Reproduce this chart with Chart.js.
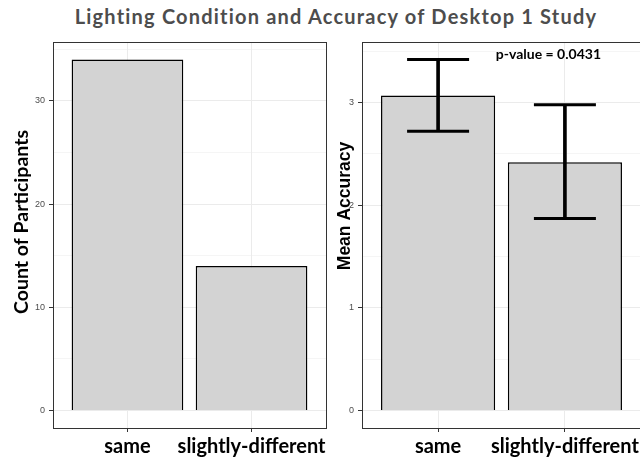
<!DOCTYPE html>
<html>
<head>
<meta charset="utf-8">
<script src="https://cdn.jsdelivr.net/npm/chart.js@4/dist/chart.umd.min.js"></script>
<style>
  html, body { margin: 0; padding: 0; background: #fff; }
  body { width: 640px; height: 457px; position: relative; overflow: hidden; }
  #title {
    position: absolute; left: 0; top: 4px; width: 672px; text-align: center;
    font: bold 20px Lato, sans-serif; letter-spacing: 1.2px; color: #4d4d4d;
  }
  canvas { position: absolute; top: 0; }
  #countChart { left: 0; }
  #accChart { left: 330px; }
</style>
</head>
<body>
<div id="title">Lighting Condition and Accuracy of Desktop 1 Study</div>
<canvas id="countChart" width="330" height="457"></canvas>
<canvas id="accChart" width="330" height="457"></canvas>
<script>
/* data */
var categories = ['same', 'slightly-different'];
var participantCounts = [34, 14];
var meanAccuracy = [3.07, 2.42];
var accuracyLower = [2.72, 1.87];
var accuracyUpper = [3.42, 2.98];
var countTicks = [0, 10, 20, 30];
var accuracyTicks = [0, 1, 2, 3];
var pValueText = 'p-value = 0.0431';
var pValueX = 1.87;
var pValueY = 3.47;

var gridColor = '#ebebeb';
var barFill = '#d3d3d3';

/* panel border like theme_bw */
var panelBorder = {
  id: 'panelBorder',
  afterDraw: function(chart) {
    var a = chart.chartArea;
    var ctx = chart.ctx;
    ctx.save();
    ctx.strokeStyle = '#333333';
    ctx.lineWidth = 1;
    ctx.strokeRect(Math.round(a.left) + 0.5, Math.round(a.top) + 0.5,
      Math.round(a.right - a.left), Math.round(a.bottom - a.top));
    ctx.restore();
  }
};

/* p-value label placed in data coordinates */
var pValueLabel = {
  id: 'pValueLabel',
  afterDatasetsDraw: function(chart) {
    var ctx = chart.ctx;
    ctx.save();
    ctx.font = 'bold 14px Lato, sans-serif';
    ctx.fillStyle = '#000';
    ctx.textAlign = 'center';
    ctx.textBaseline = 'middle';
    ctx.fillText(pValueText, chart.scales.x.getPixelForValue(pValueX),
      chart.scales.y.getPixelForValue(pValueY));
    ctx.restore();
  }
};

/* rotated y axis title, placed where ggplot put it */
function yTitle(text, font, x, y) {
  return {
    id: 'yTitle',
    afterDraw: function(chart) {
      var ctx = chart.ctx;
      ctx.save();
      ctx.translate(x, y);
      ctx.rotate(-Math.PI / 2);
      ctx.font = font;
      ctx.fillStyle = '#000';
      ctx.textAlign = 'center';
      ctx.textBaseline = 'middle';
      ctx.fillText(text, 0, 0);
      ctx.restore();
    }
  };
}

function xScale(tickLabels) {
  return {
    type: 'linear',
    min: 0.4,
    max: 2.6,
    offset: false,
    afterFit: function(s) { s.height = 29; },
    grid: { offset: false, color: gridColor, tickColor: '#333333', tickLength: 4 },
    border: { display: false },
    ticks: {
      stepSize: 1,
      includeBounds: false,
      autoSkip: false,
      maxRotation: 0,
      padding: 3,
      color: '#000',
      font: { family: 'Lato', weight: 'bold', size: 20 },
      callback: function(v) { return tickLabels[v - 1]; }
    }
  };
}

function yScale(min, max, step, majors, width) {
  return {
    min: min,
    max: max,
    afterFit: function(s) { s.width = width; },
    grid: {
      color: gridColor,
      lineWidth: function(c) { return majors.indexOf(c.tick.value) >= 0 ? 1 : 0.5; },
      tickColor: function(c) { return majors.indexOf(c.tick.value) >= 0 ? '#333333' : 'rgba(0,0,0,0)'; },
      tickLength: 4
    },
    border: { display: false },
    ticks: {
      stepSize: step,
      includeBounds: false,
      autoSkip: false,
      padding: 4,
      color: '#4d4d4d',
      font: { family: 'Liberation Sans', size: 9 },
      callback: function(v) { return majors.indexOf(v) >= 0 ? String(v) : ''; }
    }
  };
}

/* count of participants */
function createCountChart() {
  var ctx = document.getElementById('countChart').getContext('2d');
  new Chart(ctx, {
    type: 'bar',
    data: {
      datasets: [{
        data: categories.map(function(c, i) { return { x: i + 1, y: participantCounts[i] }; }),
        backgroundColor: barFill,
        borderColor: '#000',
        borderWidth: 1.5,
        barPercentage: 0.9,
        categoryPercentage: 1
      }]
    },
    options: {
      responsive: false,
      animation: false,
      devicePixelRatio: 1,
      layout: { autoPadding: false, padding: { top: 42, right: 4, left: 0, bottom: 0 } },
      plugins: { legend: { display: false }, tooltip: { enabled: false } },
      scales: {
        x: xScale(categories),
        y: yScale(-1.7, 35.7, 5, countTicks, 53)
      }
    },
    plugins: [panelBorder, yTitle('Count of Participants', 'bold 19.5px Lato, sans-serif', 22, 222)]
  });
}

/* mean accuracy with error bars */
function createAccuracyChart() {
  var ctx = document.getElementById('accChart').getContext('2d');
  var caps = [];
  categories.forEach(function(c, i) {
    caps.push({ x: i + 1, y: accuracyUpper[i] });
    caps.push({ x: i + 1, y: accuracyLower[i] });
  });
  new Chart(ctx, {
    type: 'bar',
    data: {
      datasets: [{
        type: 'line',
        order: 0,
        data: caps,
        showLine: false,
        pointStyle: 'line',
        pointRadius: 31,
        pointBorderWidth: 3,
        borderColor: '#000',
        backgroundColor: '#000'
      }, {
        order: 1,
        grouped: false,
        data: categories.map(function(c, i) { return { x: i + 1, y: [accuracyLower[i], accuracyUpper[i]] }; }),
        backgroundColor: '#000',
        borderWidth: 0,
        barThickness: 3
      }, {
        order: 2,
        grouped: false,
        data: categories.map(function(c, i) { return { x: i + 1, y: meanAccuracy[i] }; }),
        backgroundColor: barFill,
        borderColor: '#000',
        borderWidth: 1.5,
        barPercentage: 0.9,
        categoryPercentage: 1
      }]
    },
    options: {
      responsive: false,
      animation: false,
      devicePixelRatio: 1,
      layout: { autoPadding: false, padding: { top: 42, right: 19, left: 0, bottom: 0 } },
      plugins: { legend: { display: false }, tooltip: { enabled: false } },
      scales: {
        x: xScale(categories),
        y: yScale(-0.171, 3.591, 0.5, accuracyTicks, 32)
      }
    },
    plugins: [panelBorder, pValueLabel, yTitle('Mean Accuracy', 'bold 17.5px "Liberation Sans", sans-serif', 15, 206)]
  });
}

createCountChart();
createAccuracyChart();
</script>
</body>
</html>
